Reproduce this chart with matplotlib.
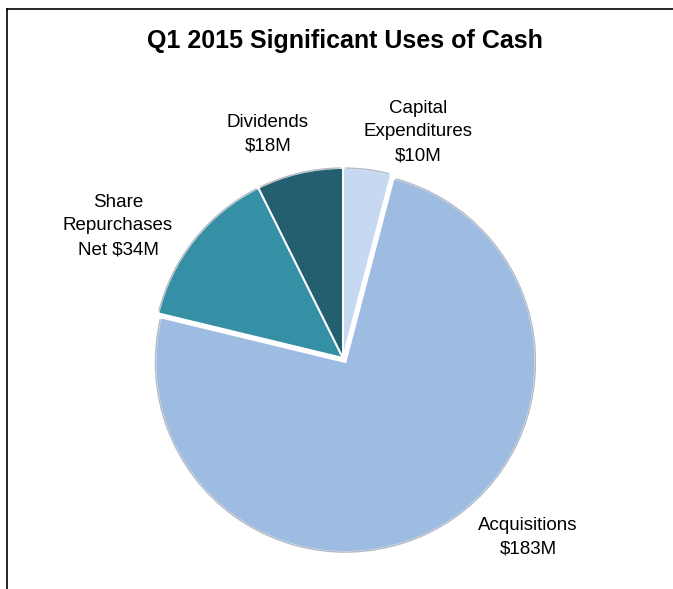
import matplotlib
matplotlib.use("Agg")
import matplotlib.pyplot as plt
from matplotlib.lines import Line2D
from matplotlib.patches import Arc

# Q1 2015 uses of cash, in $M
categories = ["Capital Expenditures", "Acquisitions", "Share Repurchases Net", "Dividends"]
values = [10, 183, 34, 18]
label_texts = ["Capital\nExpenditures\n$10M", "Acquisitions\n$183M",
               "Share\nRepurchases\nNet $34M", "Dividends\n$18M"]
colors = ["#C6D9F1", "#9EBBE2", "#3590A6", "#245F6F"]
explode = [0.0, 0.025, 0.0, 0.0]

FONT = ["Liberation Sans", "DejaVu Sans"]
plt.rcParams["font.family"] = FONT

W, H = 673, 589
fig = plt.figure(figsize=(W / 100, H / 100), dpi=100)
fig.patch.set_facecolor("white")

# pie layer (axes box padded so exploded slices and rims are not clipped)
cx, cy, r = 343, 358, 190
pad = 1.15
pax = fig.add_axes([(cx - pad * r) / W, 1 - (cy + pad * r) / H,
                    2 * pad * r / W, 2 * pad * r / H])
wedges, _ = pax.pie(values, colors=colors, startangle=90, counterclock=False,
                    explode=explode, radius=1.0,
                    wedgeprops=dict(edgecolor="white", linewidth=1.4))
pax.set_aspect("auto")
pax.set_xlim(-pad, pad)
pax.set_ylim(-pad, pad)
pax.axis("off")

# soft darker rim on the outer edge of each slice
for w in wedges:
    rim = Arc(w.center, 2 * w.r, 2 * w.r, theta1=w.theta1 + 0.6,
              theta2=w.theta2 - 0.6, color="#56667A", lw=1.0, alpha=0.45)
    rim.set_clip_on(False)
    pax.add_patch(rim)

# text layer in pixel coordinates, drawn above the pie
tax = fig.add_axes([0, 0, 1, 1])
tax.patch.set_alpha(0)
tax.set_xlim(0, W)
tax.set_ylim(H, 0)
tax.axis("off")

# data labels
label_pos = [(418, 132), (528, 537), (118, 226), (268, 134)]
for txt, (x, y) in zip(label_texts, label_pos):
    tax.text(x, y, txt, ha="center", va="center", fontsize=13.5,
             family=FONT, linespacing=1.5, color="black")

tax.text(345, 41, "Q1 2015 Significant Uses of Cash", ha="center", va="center",
         fontsize=18, fontweight="bold", family=FONT, color="black")

# chart frame: top and left edges
fig.add_artist(Line2D([7 / W, 1], [1 - 9 / H, 1 - 9 / H], color="black", lw=1.2,
                      transform=fig.transFigure))
fig.add_artist(Line2D([7 / W, 7 / W], [0, 1 - 9 / H], color="black", lw=1.2,
                      transform=fig.transFigure))

fig.savefig("out.png", dpi=100)
